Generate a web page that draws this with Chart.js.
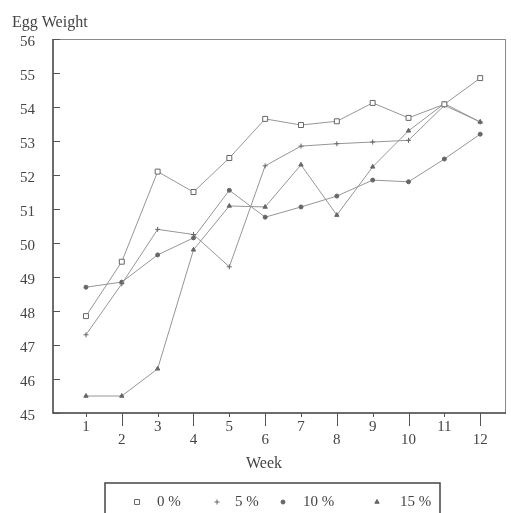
<!DOCTYPE html>
<html>
<head>
<meta charset="utf-8">
<script src="https://cdn.jsdelivr.net/npm/chart.js@4.4.1/dist/chart.umd.min.js"></script>
<style>
  html, body { margin: 0; padding: 0; background: #fff; }
  canvas { display: block; }
</style>
</head>
<body>
<canvas id="chart" width="511" height="513"></canvas>
<script>
// datos
const weeks = [1, 2, 3, 4, 5, 6, 7, 8, 9, 10, 11, 12];
const yTicks = [45, 46, 47, 48, 49, 50, 51, 52, 53, 54, 55, 56];
const seriesLabels = ["0 %", "5 %", "10 %", "15 %"];

const pct0 = [47.85, 49.45, 52.1, 51.5, 52.5, 53.65, 53.47, 53.58, 54.12, 53.68, 54.08, 54.85];
const pct5 = [47.3, 48.8, 50.4, 50.25, 49.3, 52.27, 52.85, 52.92, 52.97, 53.02, 54.05, 53.56];
const pct10 = [48.7, 48.85, 49.65, 50.15, 51.55, 50.76, 51.06, 51.38, 51.85, 51.8, 52.47, 53.2];
const pct15 = [45.5, 45.5, 46.3, 49.8, 51.09, 51.06, 52.3, 50.82, 52.24, 53.3, 54.1, 53.56];

const textColor = "#444";
const lineColor = "#969696";
const serif = "'Liberation Serif', 'DejaVu Serif', serif";

function makeSet(label, values, style, radius, fill) {
    return {
        label: label,
        data: weeks.map((w, i) => ({ x: w, y: values[i] })),
        borderColor: lineColor,
        borderWidth: 1,
        tension: 0,
        pointStyle: style,
        pointRadius: radius,
        pointBorderColor: "#666",
        pointBorderWidth: 1,
        pointBackgroundColor: fill,
    };
}

// plugin: marco, ticks hacia dentro, titulos y leyenda en caja
const framePlugin = {
    id: "frame",
    afterDraw(chart) {
        const ctx = chart.ctx;
        const a = chart.chartArea;
        const xs = chart.scales.x;
        const ys = chart.scales.y;
        ctx.save();

        // bordes claros arriba y derecha
        ctx.strokeStyle = "#8a8a8a";
        ctx.lineWidth = 1;
        ctx.beginPath();
        ctx.moveTo(a.left, a.top + 0.5);
        ctx.lineTo(a.right, a.top + 0.5);
        ctx.moveTo(a.right - 0.5, a.top);
        ctx.lineTo(a.right - 0.5, a.bottom);
        ctx.stroke();

        // ejes oscuros
        ctx.strokeStyle = "#3c3c3c";
        ctx.lineWidth = 1.5;
        ctx.beginPath();
        ctx.moveTo(a.left, a.top);
        ctx.lineTo(a.left, a.bottom);
        ctx.lineTo(a.right, a.bottom);
        ctx.stroke();

        // ticks del eje y (hacia dentro)
        ctx.lineWidth = 1;
        ctx.strokeStyle = "#555";
        ctx.beginPath();
        yTicks.forEach((v) => {
            const py = Math.round(ys.getPixelForValue(v)) + 0.5;
            ctx.moveTo(a.left, py);
            ctx.lineTo(a.left + 7, py);
        });
        ctx.stroke();

        // ticks del eje x (pares mas largos)
        ctx.beginPath();
        weeks.forEach((w) => {
            const px = Math.round(xs.getPixelForValue(w)) + 0.5;
            ctx.moveTo(px, a.bottom);
            ctx.lineTo(px, a.bottom + (w % 2 === 0 ? 13 : 4));
        });
        ctx.stroke();

        // titulos
        ctx.fillStyle = textColor;
        ctx.font = "16px " + serif;
        ctx.textBaseline = "middle";
        ctx.textAlign = "left";
        ctx.fillText("Egg Weight", 12, 23);
        ctx.textAlign = "center";
        ctx.fillText("Week", 264, 464);

        // leyenda
        ctx.strokeStyle = "#444";
        ctx.lineWidth = 1.5;
        ctx.beginPath();
        ctx.moveTo(105, 520);
        ctx.lineTo(105, 483);
        ctx.lineTo(440, 483);
        ctx.lineTo(440, 520);
        ctx.stroke();

        const markX = [137, 217, 283, 377];
        const textX = [157, 235, 303, 400];
        const ly = 502;
        ctx.font = "15px " + serif;
        ctx.textAlign = "left";
        chart.data.datasets.forEach((ds, i) => {
            ctx.fillStyle = ds.pointBackgroundColor;
            ctx.strokeStyle = ds.pointBorderColor;
            ctx.lineWidth = 1;
            Chart.helpers.drawPoint(ctx, {
                pointStyle: ds.pointStyle,
                radius: ds.pointRadius,
                rotation: 0,
                borderWidth: 1,
            }, markX[i], ly);
            ctx.fillStyle = textColor;
            ctx.fillText(ds.label, textX[i], ly);
        });

        ctx.restore();
    },
};

new Chart(document.getElementById("chart"), {
    type: "line",
    data: {
        datasets: [
            makeSet(seriesLabels[0], pct0, "rect", 3.5, "#fff"),
            makeSet(seriesLabels[1], pct5, "cross", 2.5, "#666"),
            makeSet(seriesLabels[2], pct10, "circle", 2, "#666"),
            makeSet(seriesLabels[3], pct15, "triangle", 2.5, "#666"),
        ],
    },
    options: {
        responsive: false,
        animation: false,
        devicePixelRatio: 1,
        layout: { padding: { top: 39, right: 4, left: 0, bottom: 0 } },
        plugins: {
            legend: { display: false },
            tooltip: { enabled: false },
        },
        scales: {
            x: {
                type: "linear",
                min: 0.08,
                max: 12.72,
                grid: { display: false, drawTicks: false },
                border: { display: false },
                afterBuildTicks(scale) {
                    scale.ticks = weeks.map((w) => ({ value: w }));
                },
                afterFit(scale) {
                    scale.height = 100;
                },
                ticks: {
                    padding: 8,
                    autoSkip: false,
                    maxRotation: 0,
                    color: textColor,
                    font: { family: serif, size: 15, lineHeight: 0.85 },
                    callback: (v) => (v % 2 === 0 ? ["", String(v)] : String(v)),
                },
            },
            y: {
                min: 45,
                max: 56,
                grid: { display: false, drawTicks: false },
                border: { display: false },
                afterBuildTicks(scale) {
                    scale.ticks = yTicks.map((v) => ({ value: v }));
                },
                afterFit(scale) {
                    scale.width = 53;
                },
                ticks: {
                    padding: 18,
                    labelOffset: 3,
                    color: textColor,
                    font: { family: serif, size: 15 },
                },
            },
        },
    },
    plugins: [framePlugin],
});
</script>
</body>
</html>
